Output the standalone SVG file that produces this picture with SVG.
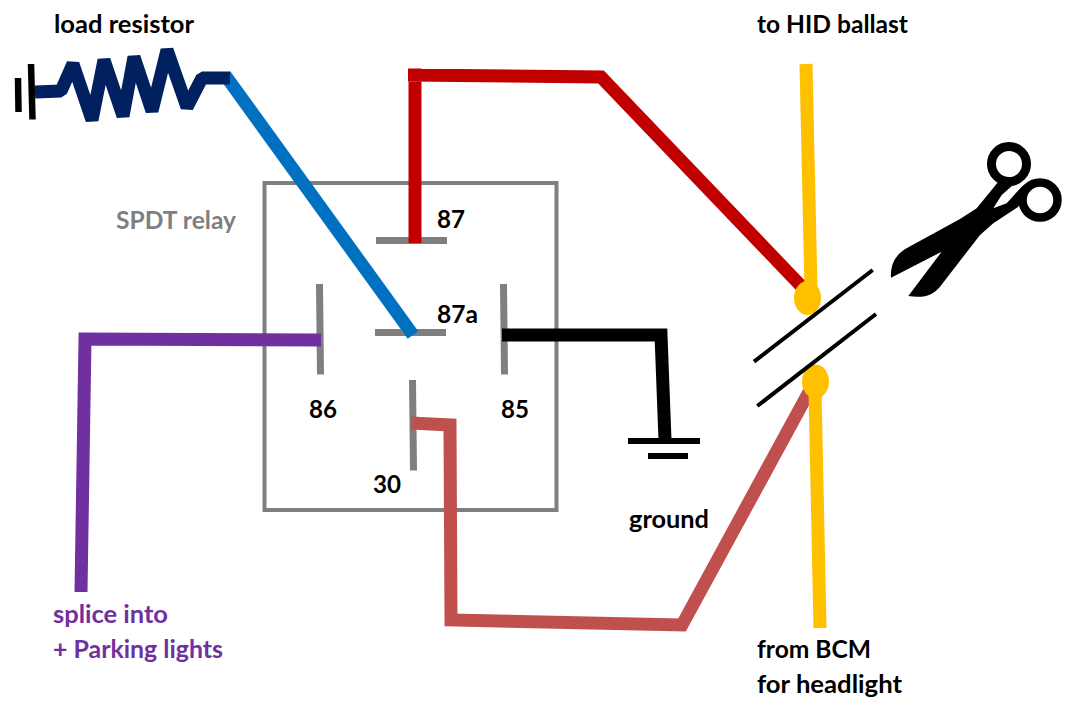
<svg xmlns="http://www.w3.org/2000/svg" width="1078" height="712" viewBox="0 0 1078 712">
<style>
text{font-family:Lato,"Open Sans","Liberation Sans",sans-serif;font-weight:700;font-size:24.5px;fill:#000}
.w{fill:none;stroke-width:13;stroke-linejoin:miter;stroke-linecap:butt}
.t{fill:none;stroke:#7f7f7f;stroke-width:7}
.k{fill:none;stroke:#000}
.g{fill:#7f7f7f}
.p{fill:#7030a0}
</style>
<rect width="1078" height="712" fill="#fff"/>
<g id="relay">
<rect x="264.500" y="183" width="292" height="327" fill="none" stroke="#7f7f7f" stroke-width="4"/>
<text class="g" x="116" y="229" textLength="120" lengthAdjust="spacingAndGlyphs">SPDT relay</text>
</g>
<g id="terminal-87"><path class="t" d="M376 240.500H447"/><text x="437" y="228" textLength="28" lengthAdjust="spacingAndGlyphs">87</text></g>
<g id="terminal-87a"><path class="t" d="M375 332.500H446"/><text x="437" y="323" textLength="41" lengthAdjust="spacingAndGlyphs">87a</text></g>
<g id="terminal-86"><path class="t" d="M319.500 284L320.500 374.500"/><text x="309" y="418" textLength="28" lengthAdjust="spacingAndGlyphs">86</text></g>
<g id="terminal-85"><path class="t" d="M503.500 284L504.500 374.500"/><text x="501" y="418" textLength="28" lengthAdjust="spacingAndGlyphs">85</text></g>
<g id="terminal-30"><path class="t" d="M412.500 380L413.500 470.500"/><text x="373" y="493" textLength="28" lengthAdjust="spacingAndGlyphs">30</text></g>
<g id="connectors">
<path class="w" stroke="#0070c0" d="M225 75L413 335"/>
<path class="w" stroke="#002060" style="stroke-linejoin:bevel" d="M35 92L61 91L73 64L92 120L104 60L123 116L134 57L152 111L167 50L187 107L202 78H230"/>
<path class="w" stroke="#c00000" d="M415 243V75H408M408 75L601 77L803 288"/>
<path class="w" stroke="#7030a0" d="M321 340L85 339L81 592"/>
<path class="w" stroke="#000" d="M502 335H661L665 440"/>
<path class="w" stroke="#c0504d" d="M411 423L450 425L451 620L682 625L810 390"/>
<path class="w" stroke="#ffc000" d="M806 64L811 290"/>
<path class="w" stroke="#ffc000" d="M815 390L820 628"/>
</g>
<g id="load-resistor-ground">
<path class="k" stroke-width="6.500" d="M18 78L18.500 112M31 64L32.500 119.500"/>
<text x="54" y="33" textLength="140" lengthAdjust="spacingAndGlyphs">load resistor</text>
</g>
<g id="ground">
<path class="k" stroke-width="6" d="M628 441H700M648 456H688"/>
<text x="629" y="528" textLength="80" lengthAdjust="spacingAndGlyphs">ground</text>
</g>
<g id="ballast-splice">
<ellipse cx="807.500" cy="298" rx="13.500" ry="17" fill="#ffc000"/>
<text x="757" y="33" textLength="151" lengthAdjust="spacingAndGlyphs">to HID ballast</text>
</g>
<g id="bcm-splice">
<ellipse cx="815.500" cy="381.500" rx="13.500" ry="17" fill="#ffc000"/>
<text x="757" y="658" textLength="114" lengthAdjust="spacingAndGlyphs">from BCM</text>
<text x="757" y="693" textLength="145" lengthAdjust="spacingAndGlyphs">for headlight</text>
</g>
<g id="cut-lines">
<path class="k" stroke-width="4" d="M872.700 270L754 361.700M876 314L757.300 406"/>
</g>
<g id="parking-lights">
<text class="p" x="53" y="623" textLength="115" lengthAdjust="spacingAndGlyphs">splice into</text>
<text class="p" x="53" y="658" textLength="170" lengthAdjust="spacingAndGlyphs">+ Parking lights</text>
</g>
<g id="scissors">
<path fill="#000" d="M891 277.700C890 262 898 253 907 248L960 219L976.700 208.300L998.300 181.700L1016.700 181.700L1001.700 195L993.300 208.300L1006.700 203.300L1021.700 186.700L1028 181.700L1018.300 206.700L993.300 223.300L980 235L940 286.700C932 297 920 298 908.300 296L941.700 251.700Z"/>
<circle cx="1009" cy="164" r="17.500" fill="none" stroke="#000" stroke-width="9"/>
<circle cx="1040" cy="200" r="17.500" fill="none" stroke="#000" stroke-width="8.500"/>
</g>
</svg>
